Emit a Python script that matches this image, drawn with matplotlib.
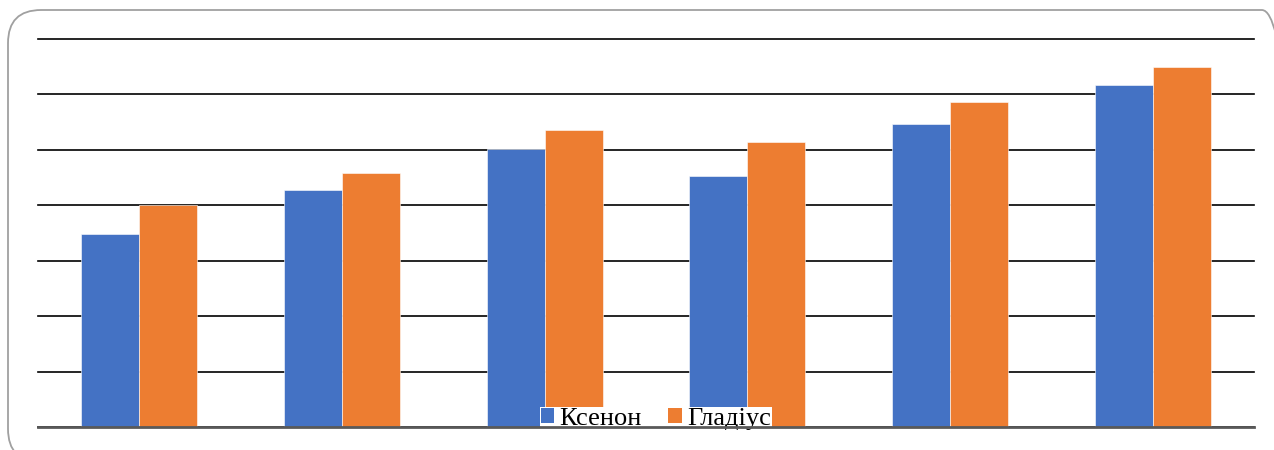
import matplotlib
matplotlib.use("Agg")
import matplotlib.pyplot as plt
import numpy as np
from matplotlib.patches import FancyBboxPatch, Patch

categories = ["1", "2", "3", "4", "5", "6"]
series_names = ["Ксенон", "Гладіус"]
xenon = [3.48, 4.28, 5.02, 4.53, 5.47, 6.17]
gladius = [4.0, 4.58, 5.36, 5.14, 5.86, 6.49]
colors = ["#4472C4", "#ED7D31"]

W, H = 1274, 450
fig = plt.figure(figsize=(W / 100, H / 100), dpi=100)

# rounded border
box = FancyBboxPatch((8 / W, (H - 462) / H), (1295 - 8) / W, (462 - 10) / H,
                     boxstyle="round,pad=0,rounding_size=0.026",
                     transform=fig.transFigure, facecolor="none",
                     edgecolor="#a0a0a0", linewidth=1.3, mutation_aspect=W / H,
                     clip_on=False, zorder=-1)
fig.patches.append(box)

ax = fig.add_axes([38 / W, (H - 427) / H, (1254 - 38) / W, (427 - 39) / H])
ax.set_facecolor("none")
x = np.arange(len(categories))
bw = 0.286
ax.bar(x - bw / 2, xenon, bw, color=colors[0], edgecolor="white", linewidth=0.4, zorder=3)
ax.bar(x + bw / 2, gladius, bw, color=colors[1], edgecolor="white", linewidth=0.4, zorder=3)
ax.set_xlim(-0.5, len(categories) - 0.5)
ax.set_ylim(0, 7)
ax.set_yticks(np.arange(0, 8, 1))
ax.yaxis.grid(True, color="black", linewidth=1.2, zorder=1)
ax.set_axisbelow(True)
for gl in ax.get_ygridlines():
    gl.set_clip_on(False)
ax.tick_params(left=False, bottom=False, labelleft=False, labelbottom=False)
for s in ["left", "right", "top"]:
    ax.spines[s].set_visible(False)
ax.spines["bottom"].set_color("#595959")
ax.spines["bottom"].set_linewidth(2)
ax.spines["bottom"].set_zorder(12)

handles = [Patch(facecolor=c, edgecolor="none") for c in colors]
leg = ax.legend(handles, series_names, loc="center",
                bbox_to_anchor=(656 / W, (H - 419) / H), bbox_transform=fig.transFigure,
                ncol=2, frameon=True, facecolor="white", edgecolor="none", framealpha=1,
                fancybox=False, borderpad=0.05, handlelength=0.5, handleheight=0.5,
                handletextpad=0.2, columnspacing=1.0, borderaxespad=0,
                prop={"family": "Liberation Serif", "size": 19})
leg.set_zorder(10)

fig.savefig("out.png", dpi=100)
